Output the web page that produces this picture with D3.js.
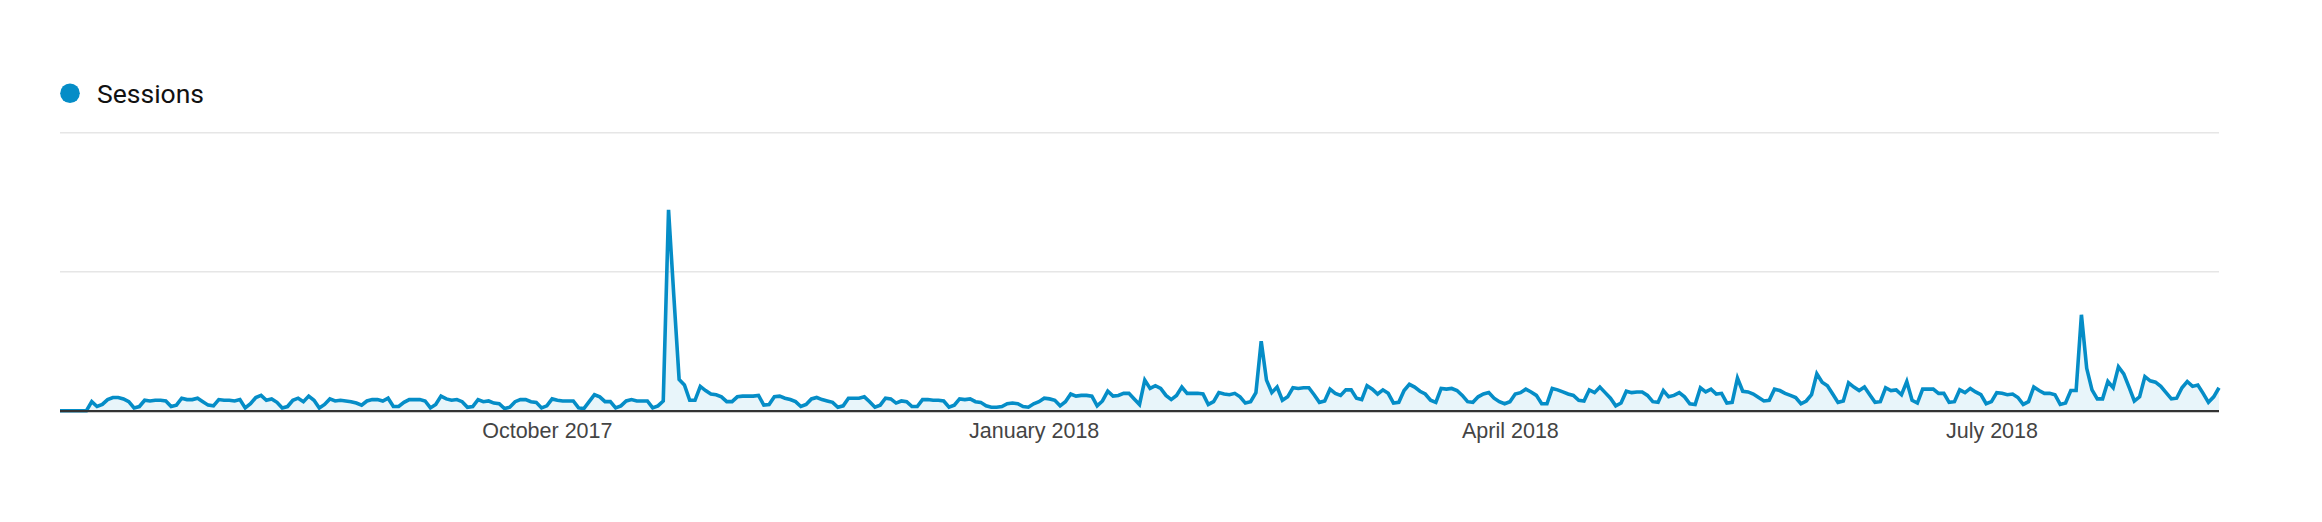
<!DOCTYPE html>
<html>
<head>
<meta charset="utf-8">
<script src="https://cdn.jsdelivr.net/npm/d3@7"></script>
<style>
  html, body { margin: 0; padding: 0; background: #fff; }
  svg { display: block; font-family: Roboto, "Noto Sans", Arial, sans-serif; }
</style>
</head>
<body>
<svg id="chart" width="2322" height="522"></svg>
<script>
// ---- data ----
const legendLabel = "Sessions";
const startDate = "2017-07-01";          // first day of the daily series
const sessions = [
  0,0,0,0,0,0,13,6,9,16,19,19,17,13,4,6,15,14,15,15,14,6,8,18,16,16,18,13,8,7,16,15,15,14,16,4,
  10,19,22,15,17,12,4,6,15,18,13,21,15,4,9,17,14,15,14,13,11,8,14,
  16,16,14,18,6,6,12,16,16,16,14,4,9,21,17,15,16,13,5,6,16,13,14,11,10,3,5,13,16,16,
  13,12,4,7,17,15,14,14,14,4,3,13,23,20,13,13,4,7,14,16,14,14,14,4,7,14,
  289,165,45,37,15,15,35,29,24,23,20,13,13,20,21,21,21,22,8,9,20,21,18,16,13,6,9,17,19,16,
  14,12,5,7,18,18,18,20,13,5,8,18,17,11,14,13,6,6,16,16,15,15,14,5,8,17,16,17,13,12,7,5,5,6,10,
  11,10,6,5,10,13,18,17,15,7,13,24,21,22,22,21,7,14,28,21,22,25,25,17,9,44,32,36,32,22,
  16,22,34,25,25,25,24,9,13,26,24,23,25,20,11,13,26,100,44,26,34,15,20,33,32,33,33,23,12,14,31,
  25,22,30,30,18,16,36,31,24,30,25,11,12,29,38,34,28,24,15,12,32,31,32,29,22,13,12,20,24,26,
  18,13,10,13,24,26,31,27,22,10,10,32,30,27,24,
  22,15,14,30,26,34,26,18,7,11,28,26,27,27,22,13,12,29,20,22,26,20,10,9,33,27,31,24,25,11,
  12,47,28,27,24,19,14,15,31,29,25,22,19,10,14,23,53,41,36,24,12,14,40,34,29,34,23,12,13,
  33,29,30,23,42,15,11,31,31,31,25,25,12,13,30,26,32,27,23,10,13,26,25,23,24,19,9,13,34,29,
  25,25,23,9,11,29,29,138,61,30,17,17,42,33,63,53,34,14,20,49,43,41,35,26,17,18,33,42,35,37,
  25,12,20,33
];
const xTickDates = ["2017-10-01", "2018-01-01", "2018-04-01", "2018-07-01"];
const yGridValues = [200, 400];
const yMax = 400;

// ---- drawing ----
const svg = d3.select("#chart");
const parse = d3.timeParse("%Y-%m-%d");
const t0 = parse(startDate);
const points = sessions.map((v, i) => ({ date: d3.timeDay.offset(t0, i), value: v }));

const x = d3.scaleTime()
  .domain([points[0].date, points[points.length - 1].date])
  .range([60, 2219]);
const y = d3.scaleLinear().domain([0, yMax]).range([410.7, 132.7]);

const blue = "#058dc7";

// gridlines
svg.append("g")
  .selectAll("line")
  .data(yGridValues)
  .join("line")
  .attr("x1", 60).attr("x2", 2219)
  .attr("y1", d => y(d)).attr("y2", d => y(d))
  .attr("stroke", "#e6e6e6")
  .attr("stroke-width", 1.5);

// area
svg.append("path")
  .datum(points)
  .attr("fill", blue)
  .attr("fill-opacity", 0.09)
  .attr("d", d3.area().x(d => x(d.date)).y0(y(0)).y1(d => y(d.value)));

// line
svg.append("path")
  .datum(points)
  .attr("fill", "none")
  .attr("stroke", blue)
  .attr("stroke-width", 3.6)
  .attr("stroke-linejoin", "miter")
  .attr("d", d3.line().x(d => x(d.date)).y(d => y(d.value)));

// baseline
svg.append("line")
  .attr("x1", 60).attr("x2", 2219)
  .attr("y1", y(0) + 0.5).attr("y2", y(0) + 0.5)
  .attr("stroke", "#333")
  .attr("stroke-width", 2.2);

// x axis labels
const fmt = d3.timeFormat("%B %Y");
const axis = d3.axisBottom(x)
  .tickValues(xTickDates.map(parse))
  .tickFormat(fmt)
  .tickSize(0);
const gx = svg.append("g").attr("transform", `translate(0,${y(0)})`).call(axis);
gx.select(".domain").remove();
gx.selectAll("text")
  .attr("y", 27.5).attr("dy", 0)
  .attr("fill", "#444")
  .style("font-size", "21.5px")
  .style("font-family", "'Liberation Sans', Arial, sans-serif");

// legend
const lg = svg.append("g");
lg.append("circle").attr("cx", 70).attr("cy", 93.3).attr("r", 9.8).attr("fill", blue);
lg.append("text")
  .attr("x", 97).attr("y", 103)
  .attr("fill", "#111")
  .style("font-size", "26.5px")
  .text(legendLabel);
</script>
</body>
</html>
